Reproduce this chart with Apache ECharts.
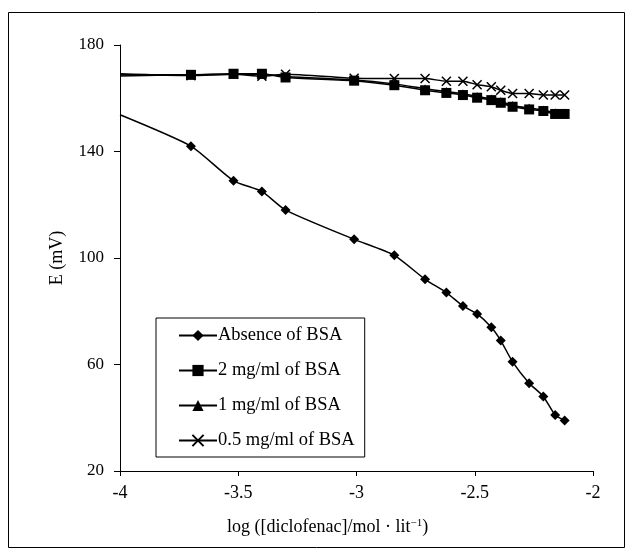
<!DOCTYPE html>
<html>
<head>
<meta charset="utf-8">
<script src="https://cdn.jsdelivr.net/npm/echarts@6/dist/echarts.min.js"></script>
<style>
  html, body { margin: 0; padding: 0; background: #fff; }
  #chart { width: 634px; height: 558px; }
</style>
</head>
<body>
<div id="chart"></div>
<script>
// log concentration, first value is where the lines enter the plot (no marker)
var logConc = [-4, -3.70, -3.52, -3.40, -3.30, -3.01, -2.84, -2.71, -2.62, -2.55, -2.49, -2.43, -2.39, -2.34, -2.27, -2.21, -2.16, -2.12];
var absenceBSA = [153.8, 142, 129, 125, 118, 107, 101, 92, 87, 82, 79, 74, 69, 61, 53, 48, 41, 39];
var bsa2 = [168.4, 168.8, 169.2, 169.2, 167.8, 166.6, 164.9, 163, 162, 161.2, 160.2, 159.3, 158.3, 156.8, 155.8, 155.2, 154.1, 154.1];
var bsa1 = [168.8, 168.8, 169, 169, 168.2, 166.9, 165.4, 163.6, 162.5, 161.7, 160.7, 159.7, 158.8, 157.3, 156.3, 155.6, 154.6, 154.5];
var bsa05 = [169.2, 168.5, 169, 168.3, 169, 167.5, 167.4, 167.4, 166.4, 166.4, 165.1, 164.3, 163, 161.8, 161.8, 161.2, 161.2, 161.2];
var seriesNames = ['Absence of BSA', '2 mg/ml of BSA', '1 mg/ml of BSA', '0.5 mg/ml of BSA'];
var yTicks = [20, 180, 40];

var font = 'Liberation Serif';
var crossPath = 'path://M0,0L10,10M10,0L0,10';

function pts(vals) {
    return vals.map(function (v, i) {
        if (i === 0) return { value: [logConc[i], v], symbol: 'none' };
        return [logConc[i], v];
    });
}

function mkSeries(name, vals, symbol, size, z) {
    return {
        name: name,
        type: 'line',
        data: pts(vals),
        smooth: 0.2,
        symbol: symbol,
        symbolSize: size,
        z: z,
        lineStyle: { color: '#000', width: 1.5 },
        itemStyle: { color: '#000', borderColor: '#000', borderWidth: symbol === crossPath ? 1.5 : 0 },
        emphasis: { disabled: true }
    };
}

var chart = echarts.init(document.getElementById('chart'));
chart.setOption({
    animation: false,
    backgroundColor: '#fff',
    textStyle: { fontFamily: font, color: '#000' },
    grid: { left: 120, right: 41, top: 45, bottom: 87 },
    graphic: [{
        type: 'rect',
        shape: { x: 8.5, y: 12.5, width: 616, height: 535 },
        style: { fill: 'none', stroke: '#000', lineWidth: 1 },
        silent: true
    }, {
        type: 'text',
        left: 227,
        top: 518,
        style: {
            text: 'log ([diclofenac]/mol · lit{sup|−1})',
            font: '18px "Liberation Serif"',
            fill: '#000',
            rich: { sup: { fontSize: 11, verticalAlign: 'top', fontFamily: font } }
        }
    }],
    legend: {
        orient: 'vertical',
        left: 156,
        top: 318,
        padding: [8, 10, 7, 22],
        itemGap: 16,
        itemWidth: 38,
        itemHeight: 14,
        borderColor: '#000',
        borderWidth: 1,
        textStyle: { fontFamily: font, fontSize: 18.5, color: '#000', padding: [0, 0, 0, -4] },
        data: seriesNames
    },
    xAxis: {
        type: 'value',
        min: -4,
        max: -2,
        interval: 0.5,
        axisLine: { lineStyle: { color: '#000', width: 1 } },
        axisTick: { inside: false, length: 5, lineStyle: { color: '#000' } },
        axisLabel: { fontFamily: font, fontSize: 18, color: '#000', margin: 13 },
        splitLine: { show: false }
    },
    yAxis: {
        type: 'value',
        min: yTicks[0],
        max: yTicks[1],
        interval: yTicks[2],
        name: 'E (mV)',
        nameLocation: 'middle',
        nameGap: 54,
        nameTextStyle: { fontFamily: font, fontSize: 18, color: '#000' },
        axisLine: { show: true, lineStyle: { color: '#000', width: 1 } },
        axisTick: { show: true, inside: false, length: 6, lineStyle: { color: '#000' } },
        axisLabel: { fontFamily: font, fontSize: 17, color: '#000', margin: 16 },
        splitLine: { show: false }
    },
    series: [
        mkSeries(seriesNames[0], absenceBSA, 'diamond', 10, 2),
        mkSeries(seriesNames[1], bsa2, 'rect', 10, 4),
        mkSeries(seriesNames[2], bsa1, 'triangle', 9, 3),
        mkSeries(seriesNames[3], bsa05, crossPath, 9, 5)
    ]
});
</script>
</body>
</html>
